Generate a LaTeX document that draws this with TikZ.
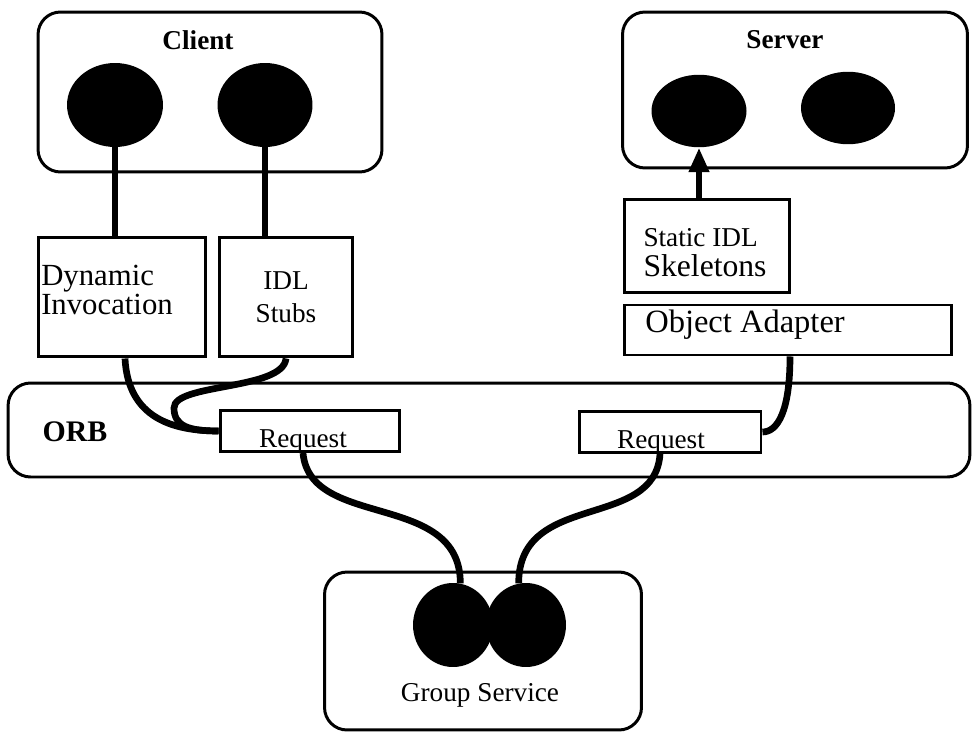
\documentclass[tikz,border=0pt]{standalone}
\usepackage{fontspec}
\setmainfont{Liberation Serif}
\usetikzlibrary{shapes.geometric,arrows.meta}

\begin{document}
\begin{tikzpicture}[x=0.02cm, y=0.02cm]
\tikzstyle{every node}+=[inner sep=0pt]
\tikzstyle{group}=[draw, rounded corners=0.45cm, line width=1.7pt]
\tikzstyle{box}=[draw, line width=1.7pt]
\tikzstyle{obj}=[ellipse, fill=black]
\tikzstyle{wire}=[line width=3.8pt]
\tikzstyle{lbl}=[font=\fontsize{15.5}{17}\selectfont, align=center]
\tikzstyle{head}=[font=\fontsize{15.5}{17}\selectfont\bfseries]
\useasboundingbox (0,0) rectangle (973,-733);
% client side
\node [group, minimum width=6.88cm, minimum height=3.2cm] (client) at (210,-92) {};
\node [head] (clientlbl) at (198,-40) {Client};
\node [obj, minimum width=1.92cm, minimum height=1.68cm] (c1) at (115,-105) {};
\node [obj, minimum width=1.9cm, minimum height=1.68cm] (c2) at (265,-105) {};
\node [box, minimum width=3.36cm, minimum height=2.4cm] (dyn) at (122,-297) {};
\node [lbl, align=left, font=\fontsize{17.5}{17}\selectfont] (dyntxt) at (107,-290) {Dynamic\\Invocation};
\node [box, minimum width=2.68cm, minimum height=2.4cm] (stubs) at (286,-297) {};
\node [lbl, font=\fontsize{15.5}{19}\selectfont] (stubstxt) at (286,-297) {IDL\\Stubs};
% server side
\node [group, minimum width=6.9cm, minimum height=3.12cm] (server) at (795,-90) {};
\node [head] (serverlbl) at (785,-40) {Server};
\node [obj, minimum width=1.9cm, minimum height=1.45cm] (s1) at (699,-111) {};
\node [obj, minimum width=1.88cm, minimum height=1.45cm] (s2) at (848,-108) {};
\node [box, minimum width=3.3cm, minimum height=1.86cm] (skel) at (707,-246) {};
\node [lbl, align=left] (skeltxt) at (705,-253) {Static IDL\\{\fontsize{18}{18}\selectfont Skeletons}};
\node [box, minimum width=6.54cm, minimum height=1.0cm] (adapter) at (788,-330) {};
\node [lbl, font=\fontsize{18.5}{18}\selectfont] (adaptertxt) at (745,-325) {Object Adapter};
% orb
\node [group, minimum width=19.24cm, minimum height=1.88cm] (orb) at (489,-430) {};
\node [head, font=\fontsize{17}{18}\selectfont\bfseries] (orblbl) at (75,-432) {ORB};
\node [box, fill=white, minimum width=3.6cm, minimum height=0.82cm] (reqL) at (310,-431) {};
\node [lbl, anchor=base] (reqLtxt) at (303,-447) {Request};
\node [box, fill=white, minimum width=3.64cm, minimum height=0.82cm] (reqR) at (670,-432) {};
\node [lbl, anchor=base] (reqRtxt) at (661,-448) {Request};
% group service
\node [group, minimum width=6.34cm, minimum height=3.16cm] (gsvc) at (483,-651) {};
\node [obj, minimum width=1.6cm, minimum height=1.68cm] (g1) at (453,-625) {};
\node [obj, minimum width=1.6cm, minimum height=1.68cm] (g2) at (526,-625) {};
\node [lbl] (gsvclbl) at (480,-695) {Group Service};
\coordinate (bend) at (174,-408);
% wires
\draw [wire] (c1.south) -- (c1.south |- dyn.north);
\draw [wire] (c2.south) -- (c2.south |- stubs.north);
\draw [wire, -{Triangle[length=14pt,width=11pt]}] (skel.north -| s1.south) -- (s1.south);
\draw [wire] (dyn.south) ++(3,0) .. controls +(3,-60) and +(-45,0) .. (reqL.west);
\draw [wire] (stubs.south) .. controls +(-3,-32) and +(0,25) .. (bend)
  .. controls +(0,-18) and +(-30,0) .. (reqL.west);
\draw [wire] (adapter.south) ++(2,0) .. controls +(0,-55) and +(15,0) .. (reqR.east);
\draw [wire] (reqL.south) ++(-7,0) .. controls +(7,-77) and +(0,93) .. (g1.80);
\draw [wire] (reqR.south) ++(-10,0) .. controls +(-5,-77) and +(0,93) .. (g2.100);
\end{tikzpicture}
\end{document}
